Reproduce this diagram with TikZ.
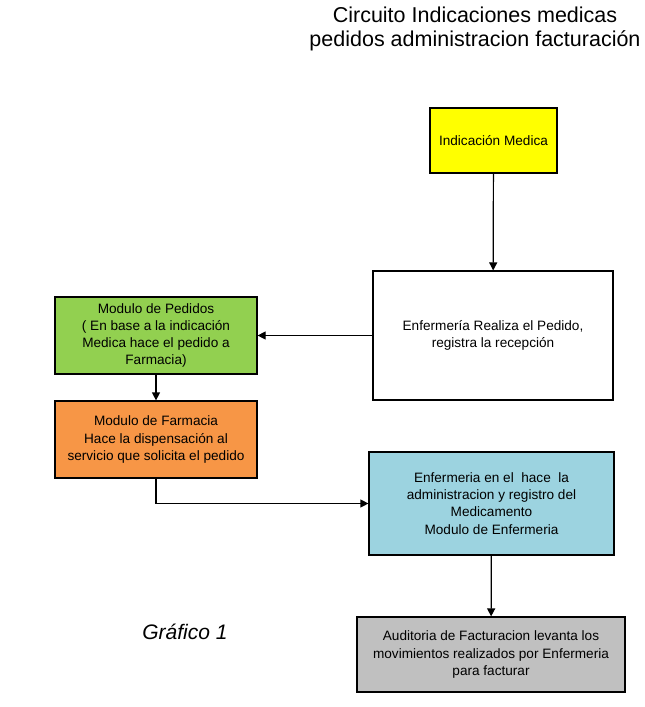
\documentclass[tikz,border=0pt]{standalone}
\usepackage{fontspec}
\setmainfont{Liberation Sans}
\usetikzlibrary{arrows.meta}
\definecolor{cyel}{HTML}{FFFF00}
\definecolor{cgreen}{HTML}{92D050}
\definecolor{corange}{HTML}{F79646}
\definecolor{cblue}{HTML}{9CD3E0}
\definecolor{cgray}{HTML}{C0C0C0}
\tikzset{
  box/.style={draw=black, line width=1.2pt, rectangle, align=center, inner sep=2pt,
    font=\fontsize{13.6}{17.2}\selectfont},
  conn/.style={draw=black, line width=1.2pt, -{Triangle[length=8pt,width=8pt]}},
}
\begin{document}
\begin{tikzpicture}[x=1pt,y=-1pt]
\useasboundingbox[fill=white] (0,0) rectangle (645,707);
\node[align=center, font=\fontsize{21.5}{24}\selectfont] (title) at (475,29)
  {Circuito Indicaciones medicas\\pedidos administracion facturación};
\node[box, fill=cyel, minimum width=127pt, minimum height=65pt] (ind) at (493.5,140.5)
  {Indicación Medica};
\node[box, fill=white, minimum width=240pt, minimum height=129pt] (ped) at (493,335.5)
  {Enfermería Realiza el Pedido,\\registra la recepción};
\node[box, fill=cgreen, minimum width=202pt, minimum height=77pt] (mp) at (156,335.5)
  {Modulo de Pedidos\\( En base a la indicación\\Medica hace el pedido a\\Farmacia)};
\node[box, fill=corange, minimum width=202pt, minimum height=77pt] (mf) at (156,439.5)
  {Modulo de Farmacia\\Hace la dispensación al\\servicio que solicita el pedido};
\node[box, fill=cblue, minimum width=245pt, minimum height=103pt] (enf) at (491.5,503.5)
  {\raisebox{8pt}{\parbox{240pt}{\centering Enfermeria en el \ hace \ la\\administracion y registro del\\Medicamento\\Modulo de Enfermeria}}};
\node[box, fill=cgray, minimum width=268pt, minimum height=75pt] (aud) at (491,654.5)
  {Auditoria de Facturacion levanta los\\movimientos realizados por Enfermeria\\para facturar};
\node[font=\fontsize{21}{24}\selectfont\itshape] (graf) at (185,632) {Gráfico 1};
\draw[conn] (ind) -- (ped);
\draw[conn] (ped) -- (mp);
\draw[conn] (mp) -- (mf);
\draw[conn] (mf.south) |- (enf.west);
\draw[conn] (enf) -- (aud);
\end{tikzpicture}
\end{document}
